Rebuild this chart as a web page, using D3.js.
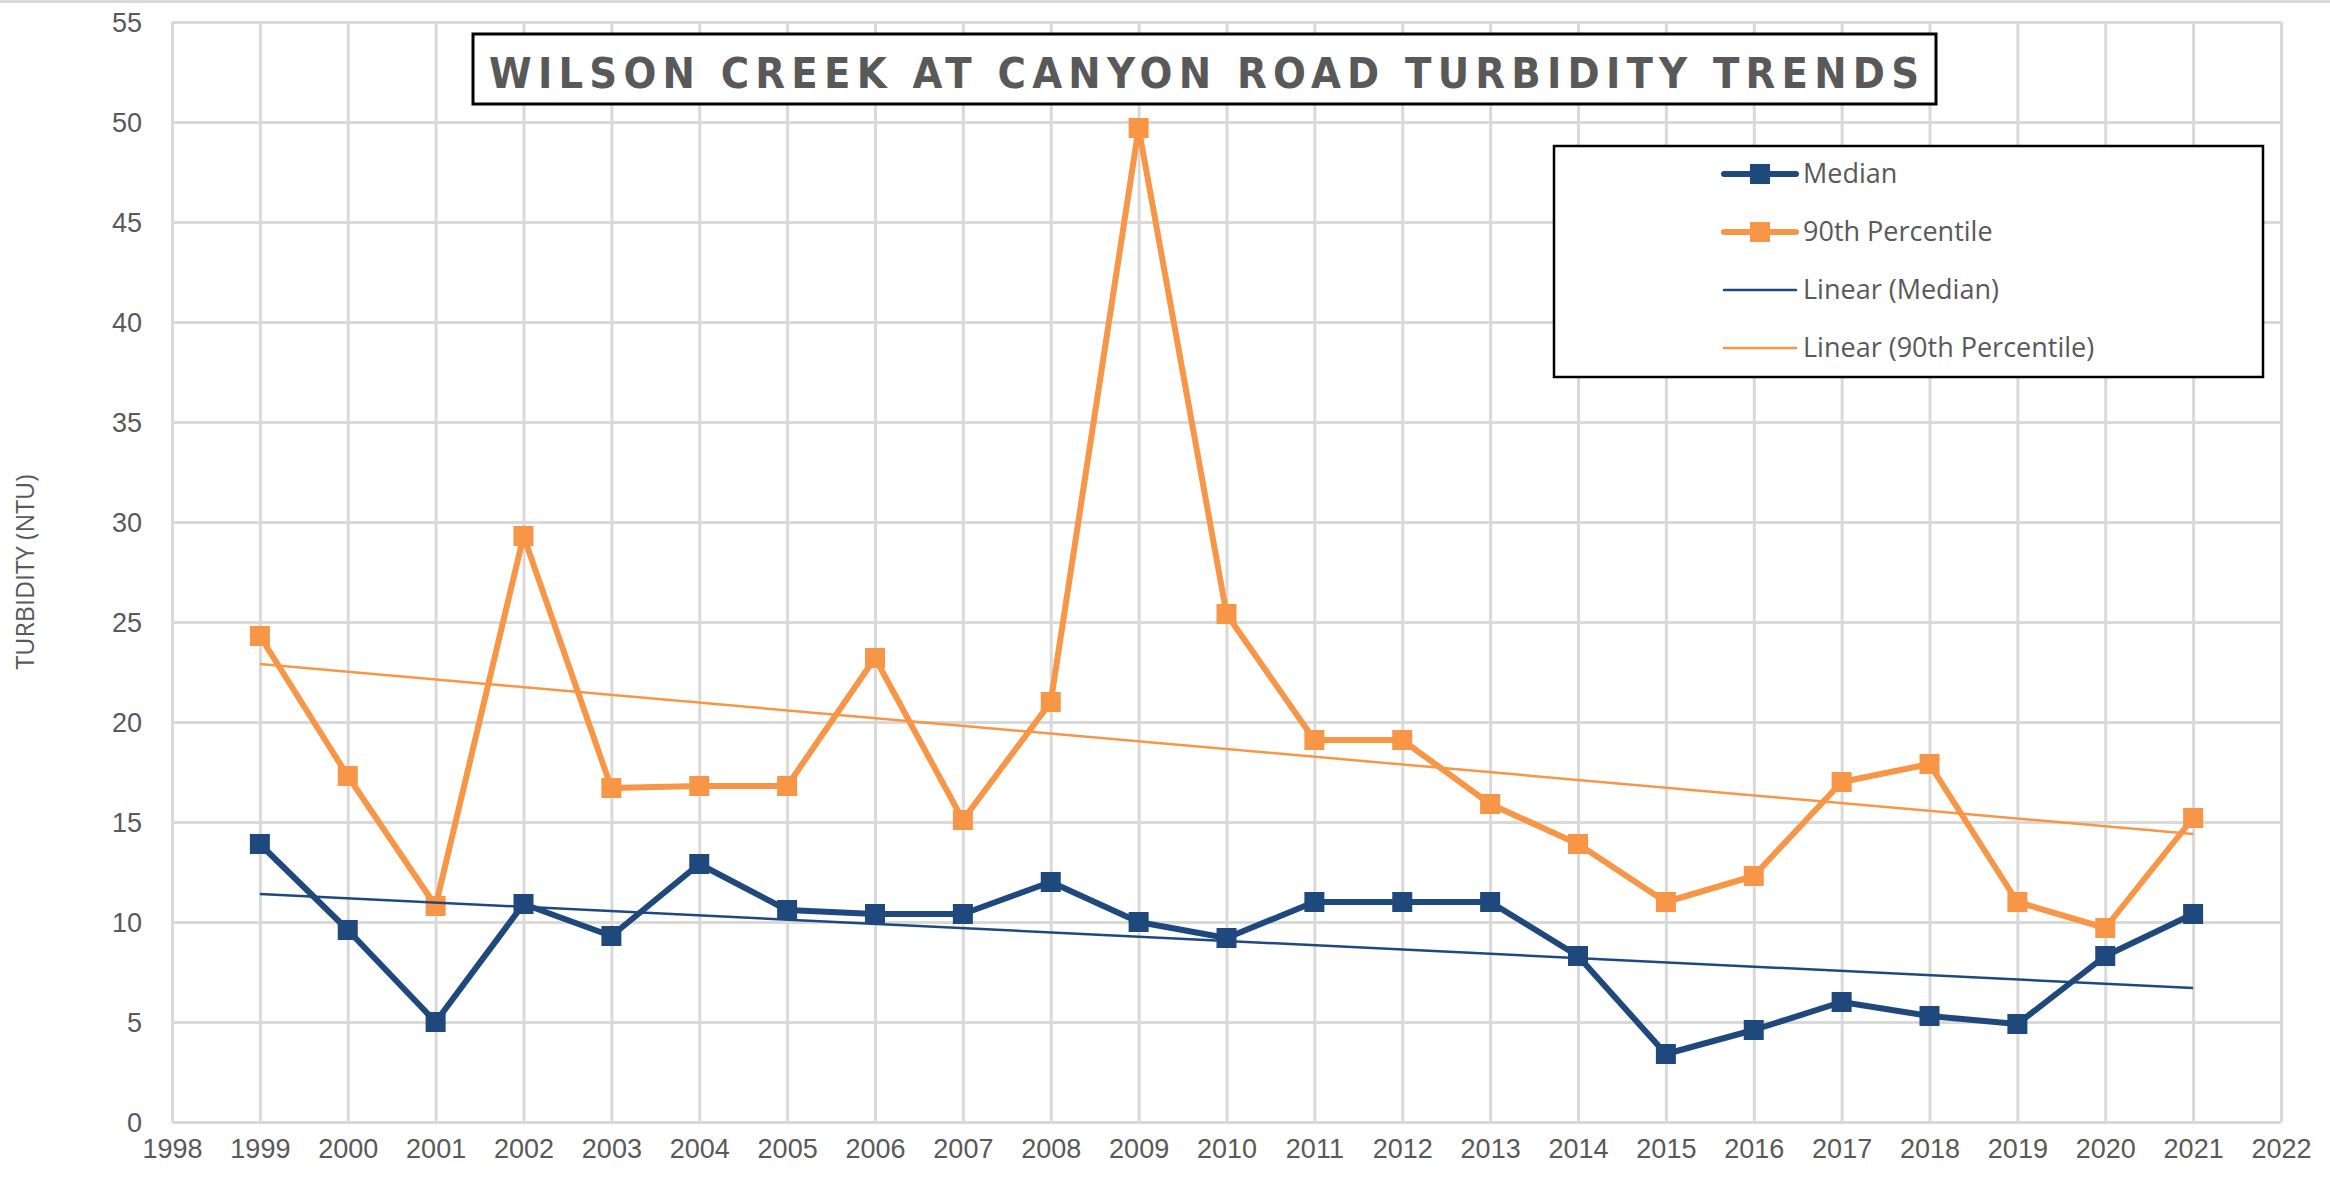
<!DOCTYPE html>
<html>
<head>
<meta charset="utf-8">
<script src="https://cdn.jsdelivr.net/npm/d3@7"></script>
<style>
  body { margin: 0; background: #fff; }
  svg { display: block; font-family: "Open Sans", "Liberation Sans", sans-serif; }
</style>
</head>
<body>
<script>
// values
var years = [1999, 2000, 2001, 2002, 2003, 2004, 2005, 2006, 2007, 2008, 2009, 2010,
             2011, 2012, 2013, 2014, 2015, 2016, 2017, 2018, 2019, 2020, 2021];
var median = [13.9, 9.6, 5.0, 10.9, 9.3, 12.9, 10.6, 10.4, 10.4, 12.0, 10.0, 9.2,
              11.0, 11.0, 11.0, 8.3, 3.4, 4.6, 6.0, 5.3, 4.9, 8.3, 10.4];
var pct90 = [24.3, 17.3, 10.8, 29.3, 16.7, 16.8, 16.8, 23.2, 15.1, 21.0, 49.7, 25.4,
             19.1, 19.1, 15.9, 13.9, 11.0, 12.3, 17.0, 17.9, 11.0, 9.7, 15.2];
// trend line end points (1999, 2021)
var trendYears = [1999, 2021];
var medianTrend = [11.4, 6.7];
var pct90Trend = [22.9, 14.4];

var xTicks = d3.range(1998, 2023);
var yTicks = d3.range(0, 56, 5);

var W = 2330, H = 1182;
var blue = '#1f497d', orange = '#f79646', grid = '#d9d9d9', txt = '#595959';

var svg = d3.select('body').append('svg')
    .attr('width', W)
    .attr('height', H);

// faint chart-area edge at the top
svg.append('line')
    .attr('x1', 0).attr('x2', W).attr('y1', 1.5).attr('y2', 1.5)
    .attr('stroke', grid).attr('stroke-width', 3);

var x = d3.scaleLinear().domain([1998, 2022]).range([172, 2281]);
var y = d3.scaleLinear().domain([0, 55]).range([1122, 22]);

// gridlines
var xAxis = svg.append('g')
    .attr('transform', 'translate(0,' + y(0) + ')')
    .call(d3.axisBottom(x).tickValues(xTicks).tickFormat(d3.format('d'))
        .tickSize(-(y(0) - y(55))).tickPadding(17));

var yAxis = svg.append('g')
    .attr('transform', 'translate(' + x(1998) + ',0)')
    .call(d3.axisLeft(y).tickValues(yTicks).tickSize(-(x(2022) - x(1998))).tickPadding(30));

[xAxis, yAxis].forEach(function (a) {
    a.select('.domain').remove();
    a.selectAll('.tick line').attr('stroke', grid).attr('stroke-width', 3);
    a.selectAll('.tick text')
        .attr('fill', txt)
        .style('font-size', '27px');
});
yAxis.selectAll('.tick text').attr('dy', '0.35em');

// y axis title
svg.append('text')
    .attr('transform', 'translate(34,' + (y(0) + y(55)) / 2 + ') rotate(-90)')
    .attr('text-anchor', 'middle')
    .attr('fill', txt)
    .attr('textLength', 195)
    .attr('lengthAdjust', 'spacingAndGlyphs')
    .style('font-size', '26px')
    .text('TURBIDITY (NTU)');

var line = d3.line()
    .x(function (d) { return x(d[0]); })
    .y(function (d) { return y(d[1]); });

function series(vals, color) {
    var pts = years.map(function (yr, i) { return [yr, vals[i]]; });
    var g = svg.append('g');
    g.append('path')
        .datum(pts)
        .attr('d', line)
        .attr('fill', 'none')
        .attr('stroke', color)
        .attr('stroke-width', 6)
        .attr('stroke-linejoin', 'round');
    var m = 20;
    g.selectAll('rect')
        .data(pts)
        .enter().append('rect')
        .attr('x', function (d) { return x(d[0]) - m / 2; })
        .attr('y', function (d) { return y(d[1]) - m / 2; })
        .attr('width', m)
        .attr('height', m)
        .attr('fill', color);
}

function trend(vals, color) {
    svg.append('path')
        .datum(trendYears.map(function (yr, i) { return [yr, vals[i]]; }))
        .attr('d', line)
        .attr('fill', 'none')
        .attr('stroke', color)
        .attr('stroke-width', 2.5);
}

series(median, blue);
series(pct90, orange);
trend(medianTrend, blue);
trend(pct90Trend, orange);

// title box
svg.append('rect')
    .attr('x', 473).attr('y', 34).attr('width', 1463).attr('height', 70)
    .attr('fill', '#fff').attr('stroke', '#000').attr('stroke-width', 3);
svg.append('text')
    .attr('x', 489).attr('y', 88)
    .attr('fill', txt)
    .attr('textLength', 1430)
    .attr('lengthAdjust', 'spacing')
    .style('font-family', '"DejaVu Sans Condensed", "DejaVu Sans", sans-serif')
    .style('font-stretch', 'condensed')
    .style('font-size', '43px')
    .style('font-weight', 'bold')
    .text('WILSON CREEK AT CANYON ROAD TURBIDITY TRENDS');

// legend
var legendItems = [
    { name: 'Median', color: blue, marker: true },
    { name: '90th Percentile', color: orange, marker: true },
    { name: 'Linear (Median)', color: blue, marker: false },
    { name: 'Linear (90th Percentile)', color: orange, marker: false }
];
var lg = svg.append('g');
lg.append('rect')
    .attr('x', 1554).attr('y', 146).attr('width', 709).attr('height', 231)
    .attr('fill', '#fff').attr('stroke', '#000').attr('stroke-width', 2.5);
var li = lg.selectAll('g.item')
    .data(legendItems)
    .enter().append('g')
    .attr('class', 'item')
    .attr('transform', function (d, i) { return 'translate(1724,' + (174 + i * 58) + ')'; });
li.append('line')
    .attr('x1', 0).attr('x2', 72)
    .attr('stroke', function (d) { return d.color; })
    .attr('stroke-width', function (d) { return d.marker ? 6 : 2.5; })
    .attr('stroke-linecap', 'round');
li.filter(function (d) { return d.marker; })
    .append('rect')
    .attr('x', 26).attr('y', -10).attr('width', 20).attr('height', 20)
    .attr('fill', function (d) { return d.color; });
li.append('text')
    .attr('x', 79).attr('dy', '0.35em')
    .attr('fill', txt)
    .style('font-size', '27px')
    .text(function (d) { return d.name; });
</script>
</body>
</html>
